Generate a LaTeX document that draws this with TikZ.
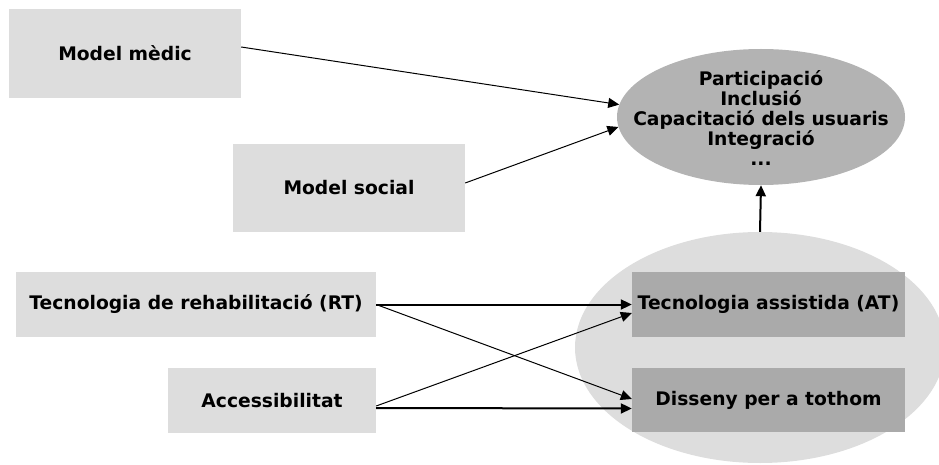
\documentclass[tikz,border=0pt]{standalone}
\usepackage{fontspec}
\setmainfont{DejaVu Sans}
\usetikzlibrary{shapes.geometric,arrows.meta,calc}
\definecolor{lgray}{RGB}{221,221,221}
\definecolor{dgray}{RGB}{179,179,179}
\definecolor{mgray}{RGB}{170,170,170}
\begin{document}
\begin{tikzpicture}[x=1pt,y=-1pt,
  txt/.style={font=\fontsize{18.7}{20}\selectfont\bfseries, inner sep=0pt, draw=none},
  lbox/.style={txt, fill=lgray, rectangle},
  dbox/.style={txt, fill=mgray, rectangle},
  thinarrow/.style={line width=1pt, -{Triangle[length=11pt,width=10pt]}},
  thickarrow/.style={line width=2pt, -{Triangle[length=11pt,width=10pt]}}]
\useasboundingbox (0,0) rectangle (939,465);
% background ellipse
\node[ellipse, fill=lgray, inner sep=0pt, minimum width=370pt, minimum height=231pt] (big) at (760,347.5) {};
% boxes
\node[lbox, minimum width=232pt, minimum height=89pt] (med) at (125,53.5) {Model mèdic};
\node[lbox, minimum width=232pt, minimum height=88pt] (soc) at (349,188) {Model social};
\node[lbox, minimum width=360pt, minimum height=65pt] (rt) at (196,304.5) {Tecnologia de rehabilitació (RT)};
\node[lbox, minimum width=208pt, minimum height=65pt] (acc) at (272,400.5) {Accessibilitat};
\node[dbox, minimum width=273pt, minimum height=65pt] (at) at (768.5,304.5) {Tecnologia assistida (AT)};
\node[dbox, minimum width=273pt, minimum height=64pt] (dis) at (768.5,400) {Disseny per a tothom};
\node[ellipse, fill=dgray, inner sep=0pt, minimum width=288pt, minimum height=136pt] (ell) at (761,117) {};
\node[txt, align=center] (elltxt) at (761,118)
  {Participació\\Inclusió\\Capacitació dels usuaris\\Integració\\...};
% connectors
\draw[thinarrow] ($(med.east)+(0,-6.5)$) -- (ell.175.6);
\draw[thinarrow] ($(soc.east)+(0,-5)$) -- (ell.184.4);
\draw[thickarrow] (big.north) -- (ell.south);
\draw[thickarrow] (rt.east) -- (at.west);
\draw[thinarrow] (rt.east) -- ($(dis.west)+(0,-1)$);
\draw[thinarrow] ($(acc.east)+(0,5.5)$) -- ($(at.west)+(0,8.5)$);
\draw[thickarrow] ($(acc.east)+(0,7.5)$) -- ($(dis.west)+(0,8.5)$);
\end{tikzpicture}
\end{document}
